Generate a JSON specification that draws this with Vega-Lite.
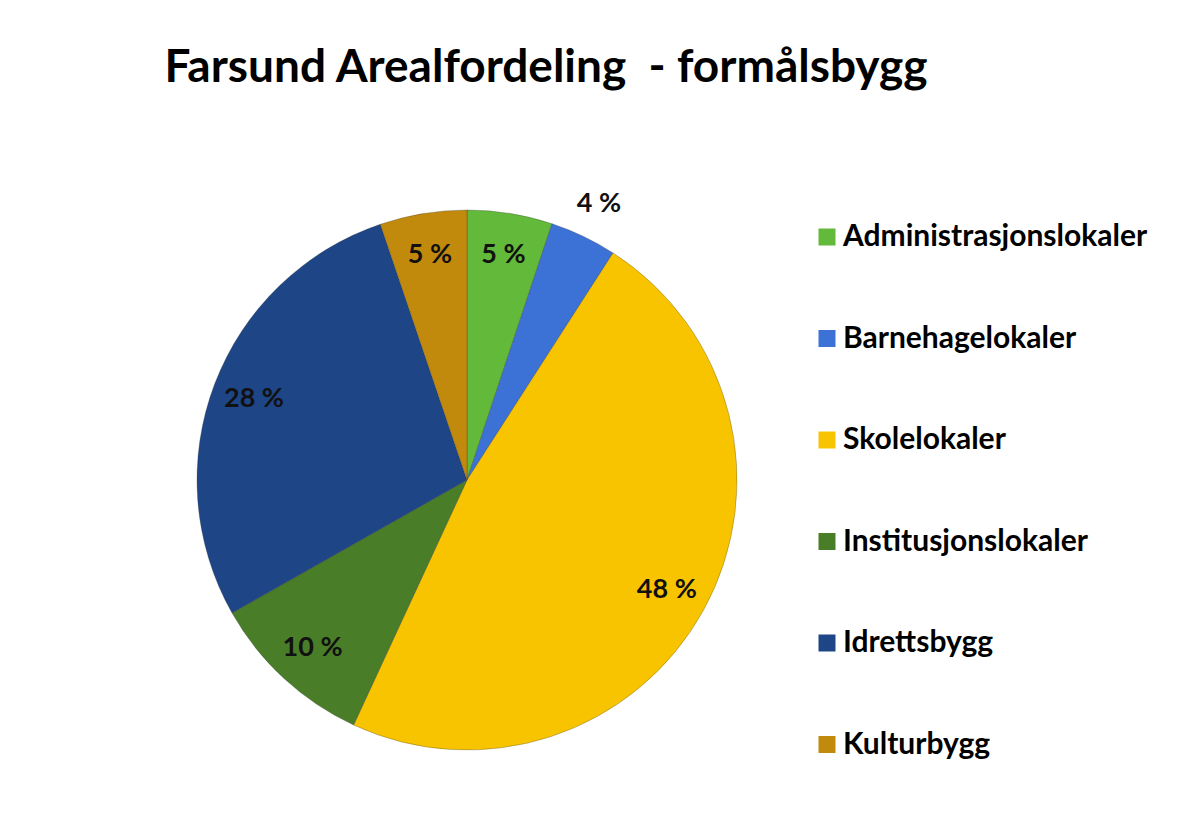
{
  "$schema": "https://vega.github.io/schema/vega-lite/v6.json",
  "autosize": {"type": "none"},
  "width": 540,
  "height": 540,
  "padding": {"left": 197, "top": 210, "right": 459, "bottom": 70},
  "background": "#ffffff",
  "config": {"view": {"stroke": null}, "font": "Lato"},
  "title": {
    "text": "Farsund Arealfordeling\u00a0 - formålsbygg",
    "font": "Lato",
    "fontSize": 46,
    "fontWeight": "bold",
    "color": "#000000",
    "anchor": "middle",
    "dx": 79,
    "baseline": "alphabetic",
    "offset": 36
  },
  "data": {
    "values": [
      {"kategori": "Administrasjonslokaler", "andel": 5.1, "tekst": "5 %"},
      {"kategori": "Barnehagelokaler", "andel": 4.0, "tekst": "4 %"},
      {"kategori": "Skolelokaler", "andel": 47.8, "tekst": "48 %"},
      {"kategori": "Institusjonslokaler", "andel": 9.9, "tekst": "10 %"},
      {"kategori": "Idrettsbygg", "andel": 28.0, "tekst": "28 %"},
      {"kategori": "Kulturbygg", "andel": 5.2, "tekst": "5 %"}
    ]
  },
  "transform": [{"window": [{"op": "row_number", "as": "rekke"}]}],
  "encoding": {
    "theta": {"field": "andel", "type": "quantitative", "stack": true},
    "order": {"field": "rekke", "type": "quantitative"}
  },
  "layer": [
    {
      "mark": {"type": "arc", "outerRadius": 270, "stroke": "#2a2a2a", "strokeWidth": 0.8, "strokeOpacity": 0.35},
      "encoding": {
        "color": {
          "field": "kategori",
          "type": "nominal",
          "scale": {
            "domain": ["Administrasjonslokaler", "Barnehagelokaler", "Skolelokaler", "Institusjonslokaler", "Idrettsbygg", "Kulturbygg"],
            "range": ["#62b93a", "#3c72d6", "#f8c400", "#4a7d28", "#1e4586", "#c28a0c"]
          },
          "legend": {
            "title": null,
            "orient": "none",
            "legendX": 615,
            "legendY": 12,
            "symbolType": "square",
            "symbolSize": 289,
            "symbolStrokeWidth": 0,
            "labelFont": "Lato",
            "labelFontSize": 30,
            "labelFontWeight": "bold",
            "labelColor": "#000000",
            "labelOffset": 1,
            "labelLimit": 400,
            "rowPadding": 71.5,
            "padding": 0
          }
        }
      }
    },
    {
      "mark": {"type": "text", "radius": 228, "font": "Lato", "fontSize": 27, "fontWeight": "bold", "color": "#111111"},
      "encoding": {
        "text": {"field": "tekst", "type": "nominal"},
        "opacity": {"condition": {"test": "datum.kategori === 'Barnehagelokaler'", "value": 0}, "value": 1}
      }
    },
    {
      "mark": {"type": "text", "radius": 306, "font": "Lato", "fontSize": 27, "fontWeight": "bold", "color": "#111111"},
      "encoding": {
        "text": {"field": "tekst", "type": "nominal"},
        "opacity": {"condition": {"test": "datum.kategori === 'Barnehagelokaler'", "value": 1}, "value": 0}
      }
    }
  ]
}
